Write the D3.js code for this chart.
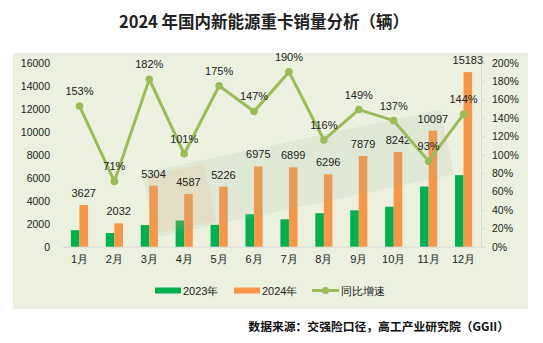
<!DOCTYPE html>
<html><head><meta charset="utf-8">
<script src="https://cdn.jsdelivr.net/npm/d3@7"></script>
<style>body{margin:0;background:#fff}svg{display:block}</style>
</head><body>
<svg id="c" width="543" height="343"></svg>
<script>
const months = ["1月","2月","3月","4月","5月","6月","7月","8月","9月","10月","11月","12月"];
const sales2023 = [1434,1188,1881,2282,1900,2824,2379,2915,3164,3478,5232,6223];
const sales2024 = [3627,2032,5304,4587,5226,6975,6899,6296,7879,8242,10097,15183];
const growth = [1.53,0.71,1.82,1.01,1.75,1.47,1.90,1.16,1.49,1.37,0.93,1.44];
const leftTicks = [0,2000,4000,6000,8000,10000,12000,14000,16000];
const rightTicks = [0,0.2,0.4,0.6,0.8,1.0,1.2,1.4,1.6,1.8,2.0];
const legendNames = ["2023年","2024年","同比增速"];
const title = "2024 年国内新能源重卡销量分析（辆）";
const source = "数据来源：交强险口径，高工产业研究院（GGII）";

const C23="#00B050", C24="#F79646", CL="#9BBB59";
const svg = d3.select("#c");
const font = "'Liberation Sans', Arial, sans-serif";

svg.append("rect").attr("x",13).attr("y",53).attr("width",515).attr("height",256).attr("fill","#EBF1DE");

svg.append("text").attr("x",264).attr("y",28).attr("text-anchor","middle")
  .attr("font-family","'Noto Sans CJK SC', sans-serif").attr("font-weight","bold").attr("font-size",16.5)
  .attr("fill","#222").text(title);

const x = d3.scaleBand().domain(months).range([62,481]).padding(0);
const y = d3.scaleLinear().domain([0,16000]).range([246.7,62.7]);
const y2 = d3.scaleLinear().domain([0,2]).range([246.7,62.7]);
const bw = x.bandwidth()*0.245;
const cx = m => x(m)+x.bandwidth()/2;

// left axis labels
const la = svg.append("g").attr("transform","translate(56,0)")
  .call(d3.axisLeft(y).tickValues(leftTicks).tickSize(0).tickPadding(6).tickFormat(d3.format("d")));
la.select(".domain").remove();
la.selectAll("text").attr("font-family",font).attr("font-size",10.5).attr("fill","#222");

// right axis
const ra = svg.append("g").attr("transform","translate(481,0)")
  .call(d3.axisRight(y2).tickValues(rightTicks).tickSize(4).tickPadding(7).tickFormat(d3.format(".0%")));
ra.select(".domain").attr("stroke","#D9D9D9");
ra.selectAll("line").attr("stroke","#D9D9D9");
ra.selectAll("text").attr("font-family",font).attr("font-size",10.5).attr("fill","#222");

// baseline + x labels
const xa = svg.append("g").attr("transform","translate(0,246.7)")
  .call(d3.axisBottom(x).tickSize(0).tickPadding(9));
xa.select(".domain").attr("stroke","#D9D9D9");
xa.selectAll("text").attr("font-family",font).attr("font-size",11).attr("fill","#222");

// bars
svg.append("g").selectAll("rect").data(months).join("rect")
  .attr("x",m=>cx(m)-bw).attr("width",bw)
  .attr("y",(m,i)=>y(sales2023[i])).attr("height",(m,i)=>y(0)-y(sales2023[i])).attr("fill",C23);
svg.append("g").selectAll("rect").data(months).join("rect")
  .attr("x",m=>cx(m)).attr("width",bw)
  .attr("y",(m,i)=>y(sales2024[i])).attr("height",(m,i)=>y(0)-y(sales2024[i])).attr("fill",C24);

// faint watermark
const wm = svg.append("g").attr("transform","translate(142,173) rotate(-12)");
wm.append("rect").attr("width",305).attr("height",66).attr("fill","#9FB0A4").attr("opacity",0.14);
wm.append("rect").attr("x",4).attr("y",4).attr("width",58).attr("height",58).attr("fill","#F0A060").attr("opacity",0.14);

svg.append("g").selectAll("text").data(months).join("text")
  .attr("x",m=>cx(m)+bw/2).attr("y",(m,i)=>y(sales2024[i])-8)
  .attr("text-anchor","middle").attr("font-family",font).attr("font-size",11).attr("fill","#222")
  .text((m,i)=>sales2024[i]);

// line
const line = d3.line().x((d,i)=>cx(months[i])).y(d=>y2(d));
svg.append("path").datum(growth).attr("d",line).attr("fill","none").attr("stroke",CL).attr("stroke-width",3).attr("stroke-linejoin","round");
svg.append("g").selectAll("circle").data(growth).join("circle")
  .attr("cx",(d,i)=>cx(months[i])).attr("cy",d=>y2(d)).attr("r",3.8).attr("fill",CL);
svg.append("g").selectAll("text").data(growth).join("text")
  .attr("x",(d,i)=>cx(months[i])).attr("y",d=>y2(d)-11)
  .attr("text-anchor","middle").attr("font-family",font).attr("font-size",11).attr("fill","#222")
  .text(d=>d3.format(".0%")(d));

// legend
const lg = svg.append("g").attr("font-family",font).attr("font-size",11).attr("fill","#222");
lg.append("rect").attr("x",155).attr("y",287.5).attr("width",26).attr("height",6).attr("fill",C23);
lg.append("text").attr("x",183).attr("y",294.5).text(legendNames[0]);
lg.append("rect").attr("x",234).attr("y",287.5).attr("width",26).attr("height",6).attr("fill",C24);
lg.append("text").attr("x",262).attr("y",294.5).text(legendNames[1]);
lg.append("line").attr("x1",312).attr("x2",339).attr("y1",290.5).attr("y2",290.5).attr("stroke",CL).attr("stroke-width",3);
lg.append("circle").attr("cx",325.5).attr("cy",290.5).attr("r",3.5).attr("fill",CL);
lg.append("text").attr("x",341).attr("y",294.5).text(legendNames[2]);

svg.append("text").attr("x",509).attr("y",331).attr("text-anchor","end")
  .attr("font-family","'Noto Sans CJK SC', sans-serif").attr("font-weight","bold").attr("font-size",11.8)
  .attr("fill","#111").text(source);
</script>
</body></html>
